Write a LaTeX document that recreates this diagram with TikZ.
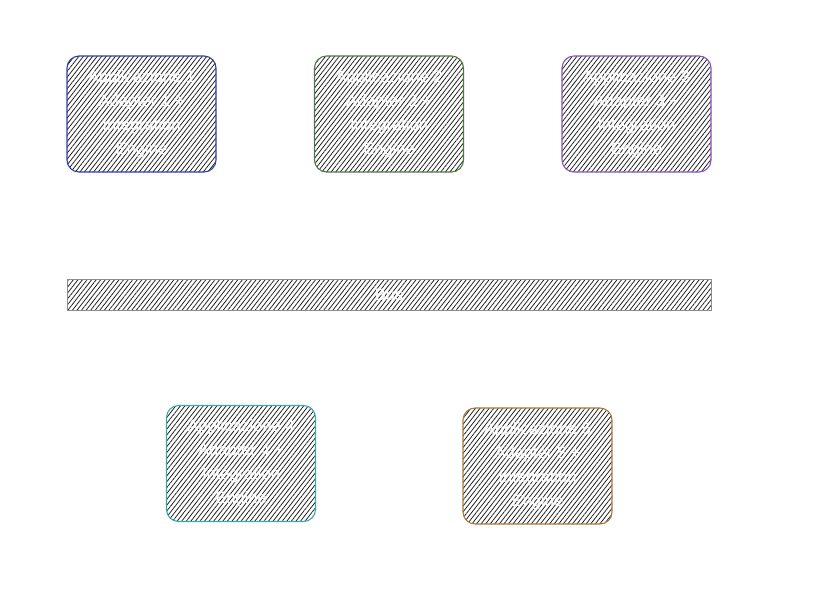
\documentclass[tikz,border=0pt]{standalone}
\usepackage{fontspec}
\setmainfont{Liberation Sans}
\usetikzlibrary{patterns.meta}
\definecolor{cblue}{HTML}{2B3FAA}
\definecolor{cgreen}{HTML}{4F7A3F}
\definecolor{cpurple}{HTML}{8A4FC0}
\definecolor{cteal}{HTML}{3AAAA5}
\definecolor{cbrown}{HTML}{A87A3A}
\tikzset{
  hatchfill/.style={pattern={Lines[angle=52,distance=3.6pt,line width=0.75pt]},pattern color=black!90},
  appbox/.style={draw=#1,line width=1.1pt,rounded corners=12pt,hatchfill,
    minimum width=149pt,minimum height=116pt,inner sep=0pt},
  apptext/.style={text=white,font=\fontsize{16.5}{24}\selectfont,align=center},
  busbox/.style={draw=black!45,line width=0.9pt,hatchfill,minimum width=644pt,minimum height=31pt,inner sep=0pt}
}
\begin{document}
\begin{tikzpicture}[x=1pt,y=-1pt]
\useasboundingbox (0,0) rectangle (827,590);
\node[appbox=cblue] (a1) at (141.5,114) {};
\node[apptext] (t1) at (a1.center) {Applicazione 1\\Adapter 1 +\\Integration\\Engine};
\node[appbox=cgreen] (a2) at (389,114) {};
\node[apptext] (t2) at (a2.center) {Applicazione 2\\Adapter 2 +\\Integration\\Engine};
\node[appbox=cpurple] (a3) at (636.5,114) {};
\node[apptext] (t3) at (a3.center) {Applicazione 3\\Adapter 3 +\\Integration\\Engine};
\node[busbox] (bus) at (389,294.5) {};
\node[apptext] (tb) at (bus.center) {Bus};
\node[appbox=cteal] (a4) at (241,463.5) {};
\node[apptext] (t4) at (a4.center) {Applicazione 4\\Adapter 4 +\\Integration\\Engine};
\node[appbox=cbrown] (a5) at (537.5,466) {};
\node[apptext] (t5) at (a5.center) {Applicazione 5\\Adapter 5 +\\Integration\\Engine};
\end{tikzpicture}
\end{document}
